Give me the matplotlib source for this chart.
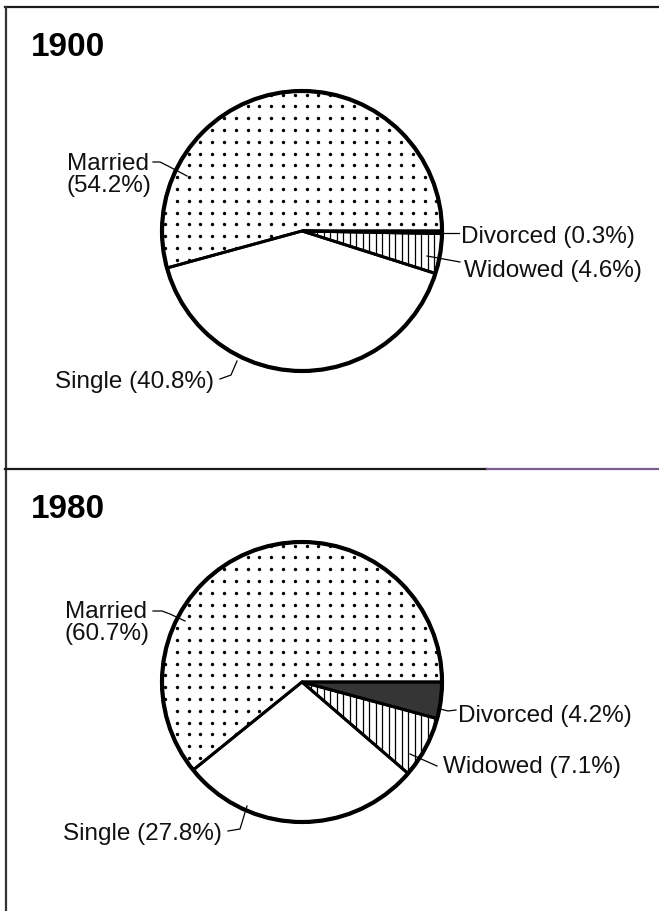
import numpy as np
import matplotlib.pyplot as plt

W, H = 659, 912

years = ["1900", "1980"]
categories = ["Divorced", "Widowed", "Single", "Married"]
share_1900 = [0.3, 4.6, 40.8, 54.2]
share_1980 = [4.2, 7.1, 27.8, 60.7]

plt.rcParams['font.family'] = ['Liberation Sans', 'DejaVu Sans']


def Y(y):
    # picture row -> axes y (axes run bottom-up)
    return H - y


# layout of each panel, in picture pixels
layout_1900 = dict(
    title=(31, 56), center=(302, 232), r=140, divorced_color='#1a1a1a',
    text={"Married": (67, 170), "Divorced": (461, 243), "Widowed": (464, 277), "Single": (55, 388)},
    leaders={"Married": [(153, 163), (160, 163), (168, 167), (187, 177)],
             "Divorced": [(442, 234), (459, 234)],
             "Widowed": [(427, 257), (460, 263)],
             "Single": [(237, 362), (231, 376), (220, 380)]},
)
layout_1980 = dict(
    title=(31, 518), center=(302, 683), r=140, divorced_color='#353535',
    text={"Married": (65, 618), "Divorced": (458, 722), "Widowed": (443, 773), "Single": (63, 840)},
    leaders={"Married": [(153, 612), (162, 612), (170, 615), (185, 622)],
             "Divorced": [(440, 710), (448, 712), (456, 711)],
             "Widowed": [(410, 755), (437, 767)],
             "Single": [(247, 807), (240, 830), (228, 832)]},
)

fig = plt.figure(figsize=(W / 100, H / 100), dpi=100)
ax = fig.add_axes([0, 0, 1, 1])


def draw_panel(year, shares, lay):
    cx, cy = lay['center']
    r = lay['r']
    c = (cx, Y(cy))
    fills, _ = ax.pie(shares, center=c, radius=r, startangle=0, counterclock=False,
                      colors=[lay['divorced_color'], 'white', 'white', 'white'],
                      wedgeprops=dict(linewidth=0), frame=True)
    for w in fills:
        w.set_zorder(1)

    # dotted texture for Married
    xs = np.arange(cx - r + 3, cx + r, 11.8)
    ys = np.arange(Y(cy) - r + 5, Y(cy) + r, 11.8)
    gx, gy = np.meshgrid(xs, ys)
    dots = ax.scatter(gx.ravel(), gy.ravel(), s=6, c='black', linewidths=0, zorder=2)
    dots.set_clip_path(fills[3])

    # vertical lines for Widowed
    vx = np.arange(cx + 2, cx + r, 6.5)
    vl = ax.vlines(vx, Y(cy) - r, Y(cy), colors='black', linewidth=0.9, zorder=2)
    vl.set_clip_path(fills[1])

    # outlines on top
    edges, _ = ax.pie(shares, center=c, radius=r, startangle=0, counterclock=False,
                      wedgeprops=dict(facecolor='none', edgecolor='black', linewidth=2.1),
                      frame=True)
    for w in edges:
        w.set_zorder(3)
    ax.add_patch(plt.Circle(c, r, fill=False, edgecolor='black', linewidth=3, zorder=4))

    ax.text(lay['title'][0], Y(lay['title'][1]), year, fontsize=24, fontweight='bold',
            ha='left', va='baseline')

    for name, v in zip(categories, shares):
        tx, ty = lay['text'][name]
        if name == "Married":
            ax.text(tx, Y(ty), name, fontsize=17.5, color='#111111', ha='left', va='baseline')
            ax.text(tx, Y(ty + 22), f"({v}%)", fontsize=17.5, color='#111111',
                    ha='left', va='baseline')
        else:
            ax.text(tx, Y(ty), f"{name} ({v}%)", fontsize=17.5, color='#111111',
                    ha='left', va='baseline')
        pts = np.array(lay['leaders'][name], dtype=float)
        ax.plot(pts[:, 0], Y(pts[:, 1]), color='black', linewidth=0.9, zorder=5)


draw_panel(years[0], share_1900, layout_1900)
draw_panel(years[1], share_1980, layout_1980)

# frame lines
ax.plot([5, W], [Y(8), Y(8)], color='#1a1a1a', linewidth=1.6)
ax.plot([6, 6], [Y(8), 0], color='#333333', linewidth=1.6)
ax.plot([5, 487], [Y(470), Y(470)], color='#1a1a1a', linewidth=1.6)
ax.plot([487, W], [Y(470), Y(470)], color='#7d5f8f', linewidth=1.6)

ax.set_xlim(0, W)
ax.set_ylim(0, H)
ax.set_aspect('auto')
ax.axis('off')

fig.savefig('out.png', dpi=100, facecolor='white')
